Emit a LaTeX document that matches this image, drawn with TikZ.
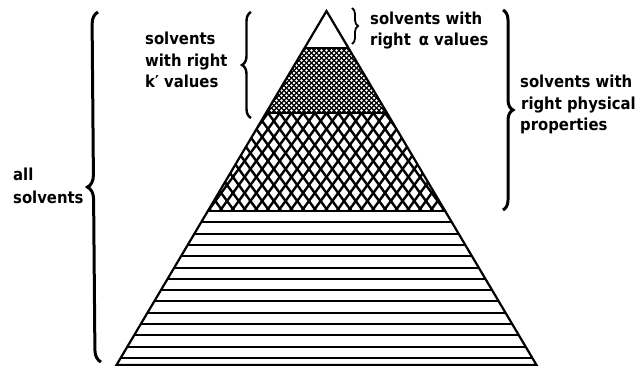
\documentclass[tikz,border=0pt]{standalone}
\usepackage{fontspec}
\newfontfamily\labfont{DejaVu Sans Condensed}[BoldFont={DejaVu Sans Condensed Bold}]
\usetikzlibrary{decorations.pathreplacing}
\tikzset{
  lab/.style={anchor=base west, inner sep=0pt, font=\labfont\bfseries\fontsize{16.5}{20}\selectfont},
  outline/.style={line width=2.2pt},
  hatch/.style={line width=2.4pt},
  finehatch/.style={line width=1.1pt},
  hline/.style={line width=2pt},
  bigbrace/.style={decorate, decoration={brace, amplitude=#1}, line width=3pt},
}
\begin{document}
\begin{tikzpicture}[x=1pt,y=-1pt]
\useasboundingbox (0,0) rectangle (639,366);
\fill[white] (0,0) rectangle (639,366);
% pyramid key points
\coordinate (A) at (326.5,11);
\coordinate (L1) at (304.5,48);  \coordinate (R1) at (348.5,48);
\coordinate (L2) at (266,113);   \coordinate (R2) at (387,113);
\coordinate (L3) at (207.8,211); \coordinate (R3) at (445.2,211);
\coordinate (BL) at (116.5,365); \coordinate (BR) at (536.5,365);
% fine crosshatch band
\begin{scope}
  \clip (L1) -- (R1) -- (R2) -- (L2) -- cycle;
  \foreach \n in {-30,...,30} {
    \draw[finehatch] (326.5+\n*5-100,-52) -- (326.5+\n*5+100,148);
    \draw[finehatch] (326.5+\n*5+100,-52) -- (326.5+\n*5-100,148);
  }
\end{scope}
% coarse diamond lattice band
\begin{scope}
  \clip (L2) -- (R2) -- (R3) -- (L3) -- cycle;
  \foreach \n in {-25,...,25} {
    \draw[hatch] (326.5+\n*11.7-117,-47) -- (326.5+\n*11.7+117,273);
    \draw[hatch] (326.5+\n*11.7+117,-47) -- (326.5+\n*11.7-117,273);
  }
\end{scope}
% horizontal lines band
\begin{scope}
  \clip (L3) -- (R3) -- (BR) -- (BL) -- cycle;
  \foreach \k in {1,...,13} {
    \draw[hline] (100,211+\k*11.3) -- (560,211+\k*11.3);
  }
\end{scope}
% outline
\draw[outline, line join=miter] (A) -- (BR) -- (BL) -- cycle;
\draw[outline] (L1) -- (R1);
\draw[outline] (L2) -- (R2);
\draw[outline] (L3) -- (R3);
% braces
\coordinate (allT) at (98,12);   \coordinate (allB) at (101,362);
\coordinate (kT) at (251,12);    \coordinate (kB) at (251,118);
\coordinate (aT) at (352,8);     \coordinate (aB) at (352,44);
\coordinate (pT) at (503,10);    \coordinate (pB) at (503,210);
\draw[bigbrace=12] (allB) -- (allT);
\draw[bigbrace=9, line width=2.4pt] (kB) -- (kT);
\draw[bigbrace=6, line width=1.8pt] (aT) -- (aB);
\draw[bigbrace=10] (pT) -- (pB);
% labels
\node[lab] (all1) at (13,181) {all};
\node[lab] (all2) at (13,203) {solvents};
\node[lab] (k1) at (145,45) {solvents};
\node[lab] (k2) at (145,67) {with right};
\node[lab] (k3) at (145,88) {k′ values};
\node[lab] (a1) at (370,25) {solvents with};
\node[lab] (a2) at (370,46) {right \,α values};
\node[lab] (p1) at (520,88) {solvents with};
\node[lab] (p2) at (521,110) {right physical};
\node[lab] (p3) at (520,131) {properties};
\end{tikzpicture}
\end{document}
